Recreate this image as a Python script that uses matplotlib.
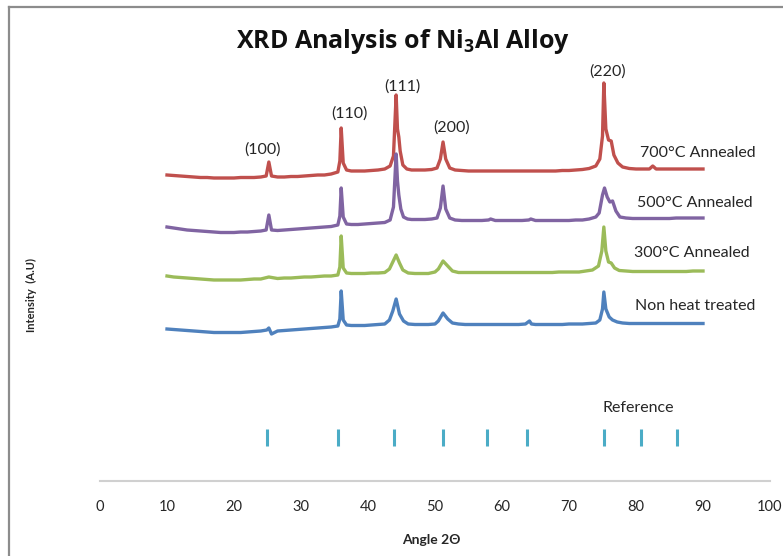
'''
    XRD patterns of Ni3Al alloy at different heat treatments
'''

import matplotlib
matplotlib.use('Agg')
import matplotlib.pyplot as plt
from matplotlib.lines import Line2D

plt.rcParams['font.family'] = ['Lato', 'DejaVu Sans']
# subscript in the title should match the bold title face
plt.rcParams['mathtext.fontset'] = 'custom'
plt.rcParams['mathtext.rm'] = 'Open Sans:bold'
plt.rcParams['mathtext.it'] = 'Open Sans:bold'
plt.rcParams['mathtext.bf'] = 'Open Sans:bold'

# angle 2theta and intensity (arbitrary units)
x_700 = [10, 11, 12, 13, 14, 15, 16, 17, 18, 19, 20, 21, 22, 23, 24, 24.8, 25.2, 25.6, 26.5, 27.5, 28.5, 29.5, 30.5, 31.5,
         32.5, 33.5, 34.5, 35.5, 35.8, 36.0, 36.3, 36.8, 37.5, 38.5, 39.5, 40.5, 41.5, 42.5, 43.3, 43.8, 44.2,
         44.4, 44.6, 44.8, 45.2, 45.8, 46.5, 47.5, 48.5, 49.5, 50.3, 50.8, 51.2, 51.6, 52.2, 53, 54, 55, 56, 57,
         58, 59, 60, 61, 62, 63, 64, 65, 66, 67, 68, 69, 70, 71, 72, 73, 74, 74.6, 75.0, 75.2, 75.5, 75.9, 76.3,
         76.7, 77.3, 78, 79, 80, 81, 82, 82.5, 83, 84, 85, 86, 87, 88, 89, 90]
y_700 = [306, 305.5, 305, 304.5, 304, 303.5, 303.5, 303, 303, 303, 303, 303.5, 303.5, 303.5, 304, 305, 319, 305, 304, 304, 304.5, 304.5,
         305, 305.5, 306, 306, 307, 309, 320, 353, 318, 311, 310, 310, 310, 310.5, 311, 312, 315, 325, 386,
         352, 344, 330, 316, 312, 311, 311, 311, 311.5, 313, 322, 339, 322, 313, 311, 310.5, 310, 310, 310,
         310, 310, 310, 310, 310, 310, 310, 310, 310, 310, 310, 310.5, 310.5, 311, 311.5, 312.5, 315, 322, 345, 398, 352, 341, 340,
         326, 318, 314, 312.5, 312, 312, 312, 315, 312, 312, 312, 312, 312, 312, 312, 312]

x_500 = [10, 11, 12, 13, 14, 15, 16, 17, 18, 19, 20, 21, 22, 23, 24, 24.8, 25.2, 25.6, 26.5, 27.5, 28.5, 29.5, 30.5, 31.5,
         32.5, 33.5, 34.5, 35.5, 35.8, 36.0, 36.3, 36.8, 37.5, 38.5, 39.5, 40.5, 41.5, 42.5, 43.3, 43.8, 44.2,
         44.4, 44.6, 44.9, 45.3, 45.9, 46.5, 47.5, 48.5, 49.5, 50.3, 50.8, 51.2, 51.6, 52.2, 53, 54, 55, 56, 57,
         58, 58.3, 59, 60, 61, 62, 63, 64, 64.3, 65, 66, 67, 68, 69, 70, 71, 72, 73, 74, 74.5, 75.0, 75.3, 75.7,
         76.1, 76.5, 77.0, 77.6, 78.5, 79.5, 80.5, 82, 83, 84, 85, 86, 87, 88, 89, 90]
y_500 = [254, 253, 252, 251, 250.5, 250, 249.5, 249, 248.5, 248.5, 248.5, 249, 249, 249.5, 250, 251, 266, 251, 250.5, 251, 251.5, 252,
         252.5, 253, 253.5, 254, 254.5, 256, 265, 293, 264, 257, 256.5, 256.5, 257, 257.5, 258, 258.5, 261, 274, 327,
         300, 286, 272, 264, 262, 261.5, 261.5, 261.5, 262, 263, 273, 295, 272, 263, 261, 260.5, 260.5, 260.5, 260.5,
         261, 262, 260.5, 260.5, 260.5, 260.5, 260.5, 261, 262, 260.5, 260.5, 260.5, 260.5, 260.5, 260.5, 261, 261, 262, 264, 268, 286, 293, 284,
         279, 280, 270, 264, 263, 262.5, 262.5, 262.5, 262.5, 262.5, 262.5, 263, 263, 263, 263, 263]

x_300 = [10, 11, 12, 13, 14, 15, 16, 17, 18, 19, 20, 21, 22, 23, 24, 25.2, 26.5, 27.5, 28.5, 29.5, 30.5, 31.5,
         32.5, 33.5, 34.5, 35.5, 35.8, 36.0, 36.3, 36.8, 37.5, 38.5, 39.5, 40.5, 41.5, 42.5, 43.2, 43.7, 44.2,
         44.7, 45.2, 46, 47, 48, 49, 50, 50.5, 51.2, 51.9, 52.6, 53.5, 54.5, 55.5, 56.5, 57.5, 58.5, 59.5, 60.5,
         61.5, 62.5, 63.5, 64.5, 65.5, 66.5, 67.5, 68.5, 69.5, 70.5, 71.5, 72.5, 73.5, 74.4, 74.9, 75.2, 75.5,
         75.9, 76.3, 76.8, 77.5, 78.5, 79.5, 80.5, 81.5, 82.5, 83.5, 84.5, 85.5, 86.5, 87.5, 88.5, 90]
y_300 = [205, 204, 203.5, 203, 202.5, 202, 201.5, 201, 201, 201, 201, 201, 201.5, 202, 202, 204, 202.5, 203, 203, 203.5, 204, 204,
         204.5, 205, 205, 206, 214, 245, 213, 208, 207.5, 207.5, 207.5, 208, 208, 208.5, 212, 219, 226,
         218, 211, 208, 207.5, 207.5, 207.5, 209, 212, 220, 215, 210, 208.5, 208.5, 208.5, 208.5, 208.5, 208.5, 208.5, 208.5,
         208.5, 208.5, 208.5, 208.5, 208.5, 208.5, 208.5, 209, 209, 209, 209, 210, 211, 215, 230, 254, 230,
         219, 218, 213, 210.5, 210, 209.5, 209.5, 209.5, 209.5, 209.5, 209.5, 209.5, 209.5, 209.5, 210, 210]

x_nht = [10, 11, 12, 13, 14, 15, 16, 17, 18, 19, 20, 21, 22, 23, 24, 24.9, 25.2, 25.6, 26.5, 27.5, 28.5, 29.5, 30.5, 31.5,
         32.5, 33.5, 34.5, 35.5, 35.8, 36.0, 36.3, 36.8, 37.5, 38.5, 39.5, 40.5, 41.5, 42.5, 43.2, 43.7, 44.2,
         44.7, 45.3, 46, 47, 48, 49, 50, 50.5, 51.2, 51.9, 52.6, 53.5, 54.5, 55.5, 56.5, 57.5, 58.5, 59.5, 60.5,
         61.5, 62.5, 63.5, 64.1, 64.4, 65, 66, 67, 68, 69, 70, 71, 72, 73, 74, 74.6, 75.0, 75.2, 75.5,
         76.0, 76.5, 77.2, 78, 79, 80, 81, 82, 83, 84, 85, 86, 87, 88, 89, 90]
y_nht = [152, 151.5, 151, 150.5, 150, 149.5, 149, 148.5, 148.5, 148.5, 148.5, 148.5, 149, 149.5, 150, 151, 153, 147, 150, 150.5, 151, 151.5,
         152, 152.5, 153, 153.5, 154, 155, 162, 190, 161, 156, 155.5, 155.5, 155.5, 156, 156.5, 157, 161, 170, 182,
         167, 160, 157, 156.5, 156.5, 156.5, 157, 160, 168, 162, 158, 157, 156.5, 156.5, 156.5, 156.5, 156.5, 156.5, 156.5,
         156.5, 156.5, 157, 160, 157, 156.5, 156.5, 156.5, 156.5, 156.5, 157, 157, 157, 157.5, 158, 161, 172, 189, 172,
         164, 161, 159, 158, 157.5, 157.5, 157.5, 157.5, 157.5, 157.5, 157.5, 157.5, 157.5, 157.5, 157.5, 157.5]

series = [(x_700, y_700, '#C0504D', '700°C Annealed', 89.3, 328),
          (x_500, y_500, '#8064A2', '500°C Annealed', 88.8, 278),
          (x_300, y_300, '#9BBB59', '300°C Annealed', 88.4, 228),
          (x_nht, y_nht, '#4F81BD', 'Non heat treated', 88.8, 175)]

# peak labels (position and height in chart units)
hkl = ['(100)', '(110)', '(111)', '(200)', '(220)']
hkl_x = [24.2, 37.2, 45.2, 52.5, 75.8]
hkl_y = [331, 367, 394, 353, 409]

# reference pattern peak positions
ref_peaks = [24.9, 35.5, 43.9, 51.2, 57.8, 63.7, 75.2, 80.7, 86.1]

xticks = [0, 10, 20, 30, 40, 50, 60, 70, 80, 90, 100]

fig = plt.figure(figsize=(7.83, 5.56), dpi=100)
ax = fig.add_axes([100 / 783, 1 - 481 / 556, 670 / 783, 450 / 556])

for xs, ys, col, name, lx, ly in series:
    ax.plot(xs, ys, color=col, lw=2.4, solid_joinstyle='round')
    ax.text(lx, ly, name, ha='center', va='center', fontsize=11.5, color='#262626')

for lab, hx, hy in zip(hkl, hkl_x, hkl_y):
    ax.text(hx, hy, lab, ha='center', va='center', fontsize=11.5, color='#262626')

ax.vlines(ref_peaks, 35, 52, color='#4BACC6', lw=2.2)
ax.text(80.3, 73, 'Reference', ha='center', va='center', fontsize=11.5, color='#262626')

ax.set_xlim(0, 100)
ax.set_ylim(0, 450)
ax.set_xticks(xticks)
ax.tick_params(axis='x', length=0, pad=14, labelsize=10.5, labelcolor='#262626')
ax.set_yticks([])
for s in ['top', 'right', 'left']:
    ax.spines[s].set_visible(False)
ax.spines['bottom'].set_color('#D0D0D0')
ax.spines['bottom'].set_linewidth(1.5)

fig.text(403 / 783, 1 - 42 / 556, 'XRD Analysis of Ni$_3$Al Alloy', ha='center', va='center',
         fontsize=18, fontweight='bold', color='#111111', family=['Open Sans', 'DejaVu Sans'])
fig.text(431 / 783, 1 - 540 / 556, 'Angle 2Θ', ha='center', va='center', fontsize=10,
         fontweight='bold', color='#262626')
fig.text(31 / 783, 1 - 295 / 556, 'Intensity  (A.U)', ha='center', va='center', rotation=90,
         fontsize=8, fontweight='bold', color='#262626')

# chart area border (top and left edges visible)
fig.add_artist(Line2D([9 / 783, 1], [1 - 6.5 / 556, 1 - 6.5 / 556], transform=fig.transFigure,
                      color='#8C8C8C', lw=1.6))
fig.add_artist(Line2D([9 / 783, 9 / 783], [0, 1 - 6.5 / 556], transform=fig.transFigure,
                      color='#8C8C8C', lw=1.6))

fig.savefig('out.png', dpi=100)
